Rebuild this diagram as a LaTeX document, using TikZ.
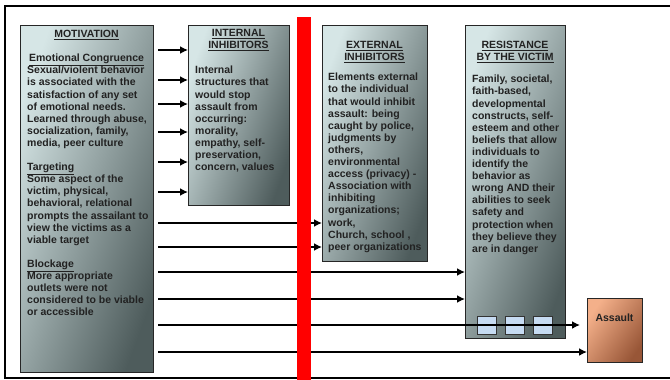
\documentclass[tikz,border=0pt]{standalone}
\usepackage{fontspec}
\setmainfont{Liberation Sans}
\usetikzlibrary{arrows.meta}

\definecolor{boxlight}{HTML}{D6E6E6}
\definecolor{boxdark}{HTML}{4E5C5C}
\definecolor{cuplight}{HTML}{F4B08A}
\definecolor{cupdark}{HTML}{985637}
\definecolor{smallblue}{HTML}{C6DBF2}
\definecolor{txtgrey}{HTML}{222222}

\begin{document}
\begin{tikzpicture}[x=1pt,y=-1pt,>={Latex[length=8pt,width=8pt]},
                    font=\fontsize{10.5}{12.1}\selectfont\bfseries]
  \tikzstyle{box}=[draw=black!85,line width=1.4pt,inner sep=0pt,anchor=north west,
                   left color=boxlight,right color=boxdark,shading angle=70]
  \tikzstyle{head}=[text=txtgrey,align=center,inner sep=0pt,anchor=north]
  \tikzstyle{body}=[text=txtgrey,align=left,inner sep=0pt,anchor=north west]
  \tikzstyle{arr}=[->,line width=2.2pt,shorten <=4pt]
  \tikzstyle{cell}=[draw=black!80,line width=0.8pt,fill=smallblue,inner sep=0pt,
                    minimum width=19pt,minimum height=18pt,anchor=north west]

  \useasboundingbox (0,0) rectangle (670,380);
  \draw[line width=2pt] (672,6) -- (5,6) -- (5,378) -- (672,378);

  \node[box,minimum width=133pt,minimum height=347pt] (mot)     at (20,25)  {};
  \node[box,minimum width=101pt,minimum height=180pt] (intinh)  at (188,25) {};
  \node[box,minimum width=105pt,minimum height=236pt] (extinh)  at (322,25) {};
  \node[box,minimum width=100pt,minimum height=313pt] (resist)  at (465,25) {};
  \node[box,minimum width=55pt,minimum height=64pt,left color=cuplight,
        right color=cupdark,shading angle=55]          (assault) at (587,298) {};

  % headings
  \node[head] (mot-head)    at (86.5,30)  {\underline{MOTIVATION}\\[11.9pt]
                                           \underline{Emotional Congruence}};
  \node[head] (intinh-head) at (238.5,29) {\underline{INTERNAL}\\\underline{INHIBITORS}};
  \node[head] (extinh-head) at (374.5,41) {\underline{EXTERNAL}\\\underline{INHIBITORS}};
  \node[head] (resist-head) at (515,41)   {\underline{RESISTANCE}\\\underline{BY THE VICTIM}};
  \node[head] (assault-txt) at (614.5,314) {Assault};

  % texts
  \node[body] (mot-txt) at (27,66) {Sexual/violent behavior\\is associated with the\\
      satisfaction of any set\\of emotional needs.\\Learned through abuse,\\
      socialization, family,\\media, peer culture\\[12.1pt]
      \underline{Targeting}\\Some aspect of the\\victim, physical,\\
      behavioral, relational\\prompts the assailant to\\view the victims as a\\
      viable target\\[12.1pt]
      \underline{Blockage}\\More appropriate\\outlets were not\\
      considered to be viable\\or accessible};
  \node[body] (intinh-txt) at (195,66) {Internal\\structures that\\would stop\\
      assault from\\occurring:\\morality,\\empathy, self-\\preservation,\\
      concern, values};
  \node[body] (extinh-txt) at (328,73) {Elements external\\to the individual\\
      that would inhibit\\assault: being\\caught by police,\\judgments by\\
      others,\\environmental\\access (privacy) -\\Association with\\
      inhibiting\\organizations;\\work,\\Church, school ,\\peer organizations};
  \node[body] (resist-txt) at (472,75) {Family, societal,\\faith-based,\\
      developmental\\constructs, self-\\esteem and other\\beliefs that allow\\
      individuals to\\identify the\\behavior as\\wrong AND their\\
      abilities to seek\\safety and\\protection when\\they believe they\\
      are in danger};

  % cells in the victim box
  \node[cell] (cell1) at (477,316) {};
  \node[cell] (cell2) at (505,316) {};
  \node[cell] (cell3) at (533,316) {};

  % arrows
  \foreach \y in {50,80,104,132,162,192}
    \draw[arr] (mot.east |- 0,\y) -- (intinh.west |- 0,\y);
  \foreach \y in {223,247}
    \draw[arr] (mot.east |- 0,\y) -- (extinh.west |- 0,\y);
  \foreach \y in {272,299}
    \draw[arr] (mot.east |- 0,\y) -- (resist.west |- 0,\y);
  \draw[arr,shorten >=7pt] (mot.east |- 0,325) -- (assault.west |- 0,325);
  \draw[arr] (mot.east |- 0,352) -- (assault.west |- 0,352);

  % barrier
  \fill[red] (297,17) rectangle (311,380);
\end{tikzpicture}
\end{document}
